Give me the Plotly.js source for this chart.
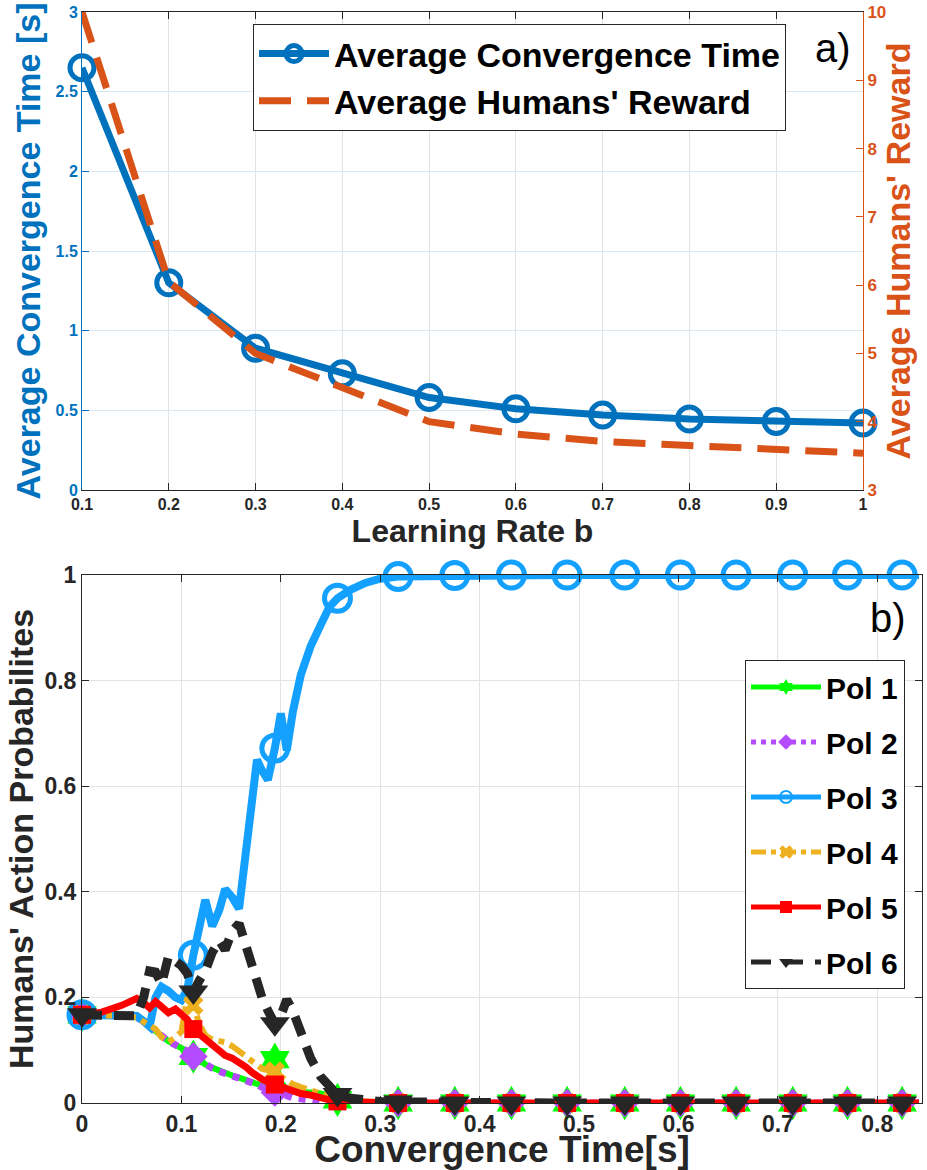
<!DOCTYPE html>
<html><head><meta charset="utf-8">
<script src="https://cdn.plot.ly/plotly-3.0.1.min.js"></script>
<style>html,body{margin:0;padding:0;background:#fff}#chart{width:927px;height:1170px}</style>
</head><body><div id="chart"></div>
<script>
// ---- panel a) data ----
const learningRate = [0.1, 0.2, 0.3, 0.4, 0.5, 0.6, 0.7, 0.8, 0.9, 1.0];
const avgConvTime  = [2.65, 1.30, 0.89, 0.73, 0.58, 0.51, 0.47, 0.445, 0.43, 0.42];
const avgReward    = [10.0, 6.05, 5.0, 4.5, 4.0, 3.82, 3.71, 3.65, 3.59, 3.54];

// ---- panel b) data ----
const convTime = [0, 0.02, 0.04, 0.055, 0.062, 0.068, 0.074, 0.08, 0.087, 0.094, 0.1, 0.106, 0.112, 0.118, 0.124, 0.131, 0.138, 0.144, 0.151, 0.158, 0.165, 0.171, 0.176, 0.181, 0.187, 0.194, 0.2, 0.206, 0.212, 0.22, 0.23, 0.24, 0.249, 0.257, 0.27, 0.285, 0.3, 0.318, 0.375, 0.432, 0.488, 0.546, 0.602, 0.658, 0.715, 0.77, 0.825, 0.842];
const markerTimes = [0, 0.112, 0.194, 0.257, 0.318, 0.375, 0.432, 0.488, 0.546, 0.602, 0.658, 0.715, 0.77, 0.825];
const pol1 = [0.167,0.167,0.165,0.162,0.155,0.145,0.135,0.125,0.117,0.11,0.105,0.098,0.088,0.08,0.073,0.067,0.061,0.056,0.052,0.048,0.044,0.04,0.036,0.033,0.04,0.082,0.04,0.025,0.022,0.02,0.02,0.018,0.012,0.006,0.003,0.001,0,0,0,0,0,0,0,0,0,0,0,0];
const pol2 = [0.167,0.167,0.165,0.162,0.155,0.145,0.135,0.125,0.117,0.11,0.105,0.098,0.088,0.08,0.072,0.066,0.06,0.055,0.051,0.047,0.043,0.039,0.035,0.03,0.026,0.02,0.016,0.013,0.01,0.008,0.006,0.004,0,-0.01,-0.002,0,0,0,0,0,0,0,0,0,0,0,0,0];
const pol3 = [0.167,0.167,0.166,0.165,0.155,0.145,0.2,0.22,0.212,0.2,0.195,0.215,0.28,0.33,0.385,0.335,0.365,0.405,0.39,0.368,0.48,0.57,0.65,0.63,0.612,0.672,0.738,0.668,0.74,0.81,0.865,0.905,0.94,0.956,0.972,0.985,0.993,0.997,0.999,1,1,1,1,1,1,1,1,1];
const pol4 = [0.167,0.167,0.165,0.162,0.155,0.148,0.14,0.125,0.115,0.125,0.135,0.2,0.185,0.15,0.128,0.12,0.118,0.115,0.108,0.098,0.088,0.078,0.07,0.065,0.062,0.06,0.05,0.042,0.036,0.03,0.024,0.018,0.012,0.008,0.004,0.002,0.001,0,0,0,0,0,0,0,0,0,0,0];
const pol5 = [0.167,0.172,0.185,0.198,0.19,0.18,0.192,0.183,0.171,0.178,0.168,0.158,0.14,0.13,0.12,0.11,0.098,0.09,0.085,0.078,0.068,0.058,0.05,0.045,0.04,0.035,0.03,0.026,0.022,0.018,0.015,0.012,0.006,0.003,0.002,0.001,0,0,0,0,0,0,0,0,0,0,0,0];
const pol6 = [0.167,0.166,0.165,0.165,0.2,0.25,0.248,0.225,0.278,0.268,0.26,0.245,0.21,0.232,0.25,0.285,0.308,0.29,0.325,0.34,0.295,0.26,0.235,0.2,0.175,0.15,0.165,0.196,0.175,0.13,0.085,0.05,0.03,0.016,0.009,0.005,0.003,0.002,0,0,0,0,0,0,0,0,0,0];
const polNames = ['Pol 1', 'Pol 2', 'Pol 3', 'Pol 4', 'Pol 5', 'Pol 6'];

// ---- styling ----
const W = 927, H = 1170;
const fx = p => p / W, fy = p => 1 - p / H;
const FONT = 'Liberation Sans, Arial, Helvetica, sans-serif';
const DARK = '#262626', BLUE = '#0072BD', ORANGE = '#D95319', GRID = '#e3e3e3';

const polSeries = [pol1, pol2, pol3, pol4, pol5, pol6];
const polStyle = [
  {color: '#00FF00', dash: 'solid', width: 6, symbol: 'hexagram', size: 26},
  {color: '#B44BFF', dash: 'dot', width: 7, symbol: 'diamond', size: 22},
  {color: '#14A0FF', dash: 'solid', width: 8, symbol: 'circle-open', size: 26, lw: 5},
  {color: '#EDB120', dash: 'dashdot', width: 6, symbol: 'x', size: 18},
  {color: '#FF0000', dash: 'solid', width: 7, symbol: 'square', size: 18},
  {color: DARK, dash: '20px,12px', width: 9, symbol: 'triangle-down', size: 26}
];

const traces = [
  {x: learningRate, y: avgConvTime, xaxis: 'x', yaxis: 'y', name: 'Average Convergence Time',
   mode: 'lines+markers', cliponaxis: false, legend: 'legend',
   line: {color: BLUE, width: 7},
   marker: {symbol: 'circle-open', size: 24, opacity: 1, color: BLUE, line: {color: BLUE, width: 5}}},
  {x: learningRate, y: avgReward, xaxis: 'x', yaxis: 'y2', name: "Average Humans' Reward",
   mode: 'lines', legend: 'legend',
   line: {color: ORANGE, width: 7, dash: '32px,16px'}}
];

polSeries.forEach((ys, i) => {
  const s = polStyle[i];
  const sizes = convTime.map(t => markerTimes.includes(t) ? s.size : 0);
  traces.push({
    x: convTime, y: ys, xaxis: 'x2', yaxis: 'y3', name: polNames[i],
    mode: 'lines+markers', cliponaxis: false, legend: 'legend2', legendgroup: 'g' + i,
    line: {color: s.color, width: s.width, dash: s.dash},
    marker: {symbol: s.symbol, size: sizes, opacity: 1, color: s.color,
             line: {color: s.color, width: s.lw || 0}}
  });
});

const tickBase = {ticks: 'inside', ticklen: 7, showline: true, linewidth: 1, zeroline: false};

const layout = {
  width: W, height: H, margin: {l: 0, r: 0, t: 0, b: 0},
  paper_bgcolor: '#ffffff', plot_bgcolor: '#ffffff',
  font: {family: FONT, color: DARK},
  showlegend: true,
  xaxis: Object.assign({}, tickBase, {
    domain: [fx(82), fx(863)], anchor: 'y', range: [0.1, 1], tick0: 0.1, dtick: 0.1,
    tickcolor: DARK, linecolor: DARK, mirror: 'ticks', showgrid: true, gridcolor: GRID,
    tickfont: {family: FONT, size: 16, weight: 'bold', color: DARK},
    title: {text: 'Learning Rate b', font: {family: FONT, size: 32, weight: 'bold', color: DARK}, standoff: 6}
  }),
  yaxis: Object.assign({}, tickBase, {
    domain: [fy(490), fy(12)], anchor: 'x', range: [0, 3], dtick: 0.5,
    tickcolor: BLUE, linecolor: BLUE, showgrid: true, gridcolor: '#dbe7f1',
    tickfont: {family: FONT, size: 16, weight: 'bold', color: BLUE},
    title: {text: 'Average Convergence Time [s]', font: {family: FONT, size: 34, weight: 'bold', color: BLUE}, standoff: 4}
  }),
  yaxis2: Object.assign({}, tickBase, {
    overlaying: 'y', side: 'right', anchor: 'x', range: [3, 10], dtick: 1,
    tickcolor: ORANGE, linecolor: ORANGE, showgrid: false,
    tickfont: {family: FONT, size: 17, weight: 'bold', color: ORANGE},
    title: {text: "Average Humans' Reward", font: {family: FONT, size: 34, weight: 'bold', color: ORANGE}, standoff: 0}
  }),
  xaxis2: Object.assign({}, tickBase, {
    domain: [fx(82), fx(922)], anchor: 'y3', range: [0, 0.845], tick0: 0, dtick: 0.1,
    tickcolor: DARK, linecolor: DARK, mirror: 'ticks', showgrid: true, gridcolor: GRID,
    tickfont: {family: FONT, size: 23, weight: 'bold', color: DARK},
    title: {text: 'Convergence Time[s]', font: {family: FONT, size: 37, weight: 'bold', color: DARK}, standoff: 0}
  }),
  yaxis3: Object.assign({}, tickBase, {
    domain: [fy(1103), fy(575)], anchor: 'x2', range: [0, 1], dtick: 0.2,
    tickcolor: DARK, linecolor: DARK, mirror: 'ticks', showgrid: true, gridcolor: GRID,
    tickfont: {family: FONT, size: 23, weight: 'bold', color: DARK},
    title: {text: "Humans' Action Probabilites", font: {family: FONT, size: 34, weight: 'bold', color: DARK}, standoff: 0}
  }),
  legend: {
    x: fx(253), y: fy(24), xanchor: 'left', yanchor: 'top',
    bgcolor: '#ffffff', bordercolor: DARK, borderwidth: 1,
    font: {family: FONT, size: 34, weight: 'bold', color: '#000000'},
    itemwidth: 70, itemsizing: 'trace', traceorder: 'normal'
  },
  legend2: {
    x: fx(745), y: fy(660), xanchor: 'left', yanchor: 'top',
    bgcolor: '#ffffff', bordercolor: DARK, borderwidth: 1,
    font: {family: FONT, size: 30, weight: 'bold', color: '#000000'},
    itemwidth: 70, itemsizing: 'constant', tracegroupgap: 13, traceorder: 'grouped'
  },
  annotations: [
    {text: 'a)', xref: 'paper', yref: 'paper', x: fx(833), y: fy(48), xanchor: 'center', yanchor: 'middle',
     showarrow: false, font: {family: FONT, size: 40, color: '#000000'}},
    {text: 'b)', xref: 'paper', yref: 'paper', x: fx(888), y: fy(618), xanchor: 'center', yanchor: 'middle',
     showarrow: false, font: {family: FONT, size: 40, color: '#000000'}}
  ]
};

Plotly.newPlot('chart', traces, layout, {displayModeBar: false, staticPlot: true});
</script>
</body></html>
